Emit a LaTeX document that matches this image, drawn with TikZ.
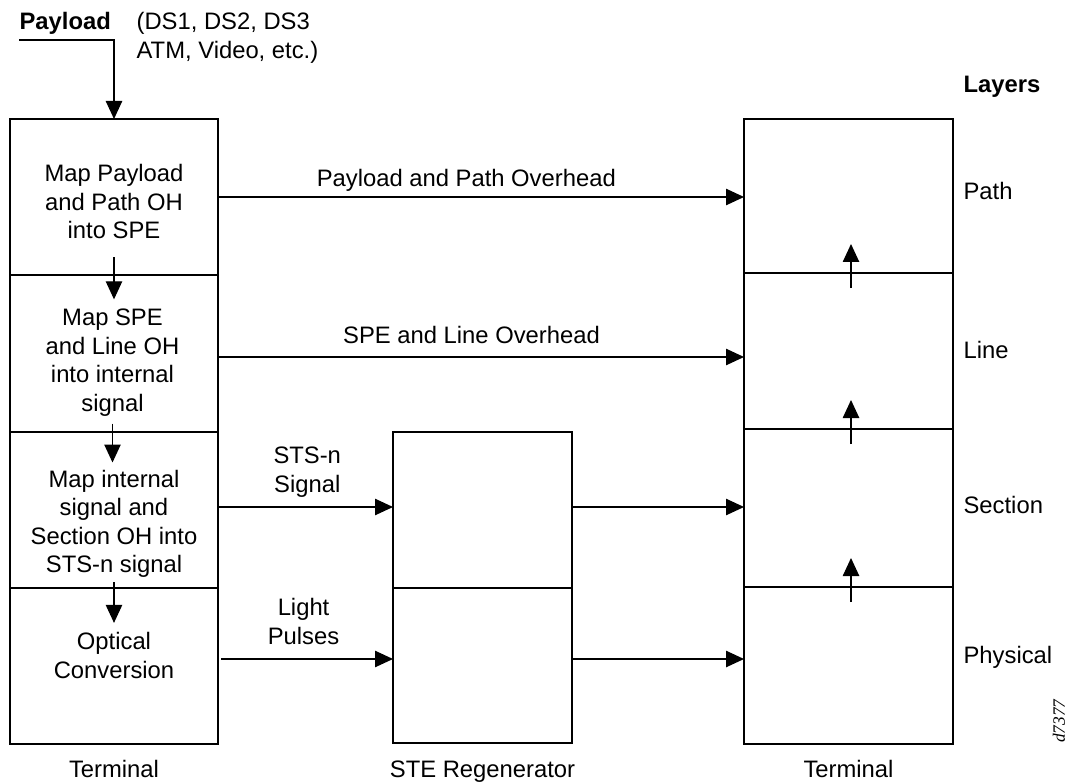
\documentclass[tikz,border=0pt]{standalone}
\usepackage{fontspec}
\setmainfont{Liberation Sans}
\newfontfamily\tagfont{Liberation Serif}
\usetikzlibrary{arrows.meta, fit, positioning}

\begin{document}
\begin{tikzpicture}[x=0.75pt, y=-0.75pt, line width=0.9pt,
    font=\fontsize{17.85}{21.4}\selectfont,
    arr/.style={-{Triangle[length=13.5pt, width=12.3pt]}},
    sect/.style={draw, inner sep=0pt, outer sep=0pt},
    frame/.style={draw, line width=2pt, inner sep=0pt, outer sep=0pt},
    txt/.style={align=center, inner sep=0pt},
    lay/.style={anchor=base west, inner sep=0pt}]

    \useasboundingbox (0,0) rectangle (1070,784);

    % The sending terminal
    \node[sect, minimum width=156pt, minimum height=117pt] (s1) at (114,197) {};
    \node[sect, minimum width=156pt, minimum height=117.75pt] (s2) at (114,353.5) {};
    \node[sect, minimum width=156pt, minimum height=117pt] (s3) at (114,510) {};
    \node[sect, minimum width=156pt, minimum height=117pt] (s4) at (114,666) {};
    \node[frame, fit=(s1)(s4)] (term1) {};

    \node[txt] (t1) at (114,201.5) {Map Payload\\and Path OH\\into SPE};
    \node[txt] (t2) at (112.5,362.5) {Map SPE\\and Line OH\\into internal\\signal};
    \node[txt] (t3) at (114,524) {Map internal\\signal and\\Section OH into\\STS-n signal};
    \node[txt] (t4) at (114,655.5) {Optical\\Conversion};

    % The regenerator
    \node[sect, minimum width=134.25pt, minimum height=117pt] (m1) at (482.5,510) {};
    \node[sect, minimum width=134.25pt, minimum height=116.25pt] (m2) at (482.5,665.5) {};
    \node[frame, fit=(m1)(m2)] (regen) {};

    % The receiving terminal
    \node[sect, minimum width=156.75pt, minimum height=115.5pt] (p1) at (848.5,196) {};
    \node[sect, minimum width=156.75pt, minimum height=117pt] (p2) at (848.5,351) {};
    \node[sect, minimum width=156.75pt, minimum height=118.5pt] (p3) at (848.5,508) {};
    \node[sect, minimum width=156.75pt, minimum height=117.75pt] (p4) at (848.5,665.5) {};
    \node[frame, fit=(p1)(p4)] (term2) {};

    % Payload in
    \node[lay, font=\fontsize{17.85}{21.4}\selectfont\bfseries] (pl) at (19,30) {Payload};
    \node[anchor=north west, align=left, inner sep=0pt] (plkind) at (136,12) {(DS1, DS2, DS3\\ATM, Video, etc.)};
    \coordinate (pin) at (19,40);
    \draw[arr] (pin) -| (s1.north);

    % Steps down the stack
    \draw[arr, shorten <=13.5pt, shorten >=6.75pt] (t1.south) -- (t1.south |- t2.north);
    \draw[arr, shorten <=5.25pt, shorten >=5.25pt] (t2.south) -- (t2.south |- t3.north);
    \draw[arr, shorten <=3pt, shorten >=6.75pt] (t3.south) -- (t3.south |- t4.north);

    % Across the link
    \draw[arr] (s1.east) -- (s1.east -| p1.west)
        node[pos=0.472, above=3.75pt, inner sep=0pt] {Payload and Path Overhead};
    \draw[arr] (s2.east) ++(0,3.5) coordinate (a2) -- (a2 -| p2.west)
        node[pos=0.482, above=9.75pt, inner sep=0pt] {SPE and Line Overhead};
    \draw[arr] (s3.east) ++(0,-3) coordinate (a3) -- (a3 -| m1.west)
        node[pos=0.51, above=6.75pt, txt] {STS-n\\Signal};
    \draw[arr] (s4.east) ++(3,-7) coordinate (a4) -- (a4 -| m2.west)
        node[pos=0.48, above=10.5pt, txt] {Light\\Pulses};
    \draw[arr] (m1.east) ++(0,-3) coordinate (b3) -- (b3 -| p3.west);
    \draw[arr] (m2.east) ++(0,-6.5) coordinate (b4) -- (b4 -| p4.west);

    % Steps up the stack
    \foreach \n in {p2,p3,p4}
        \draw[arr] (\n.north) ++(2.5,15) -- ++(0,-44);

    % Layers
    \node[lay, font=\fontsize{17.85}{21.4}\selectfont\bfseries] (layers) at (963,93) {Layers};
    \node[lay] (lpath) at (963,200) {Path};
    \node[lay] (lline) at (963,358) {Line};
    \node[lay] (lsect) at (963,513) {Section};
    \node[lay] (lphys) at (963,663) {Physical};

    % Names under the boxes
    \path (term1.south) ++(0,33) node[anchor=base, inner sep=0pt] (n1) {Terminal};
    \path (regen.south) ++(0,34) node[anchor=base, inner sep=0pt] (n2) {STE Regenerator};
    \path (term2.south) ++(0,33) node[anchor=base, inner sep=0pt] (n3) {Terminal};

    \node[rotate=90, inner sep=0pt, font=\tagfont\itshape\fontsize{13}{15}\selectfont] (tag) at (1059,721) {d7377};

\end{tikzpicture}
\end{document}
